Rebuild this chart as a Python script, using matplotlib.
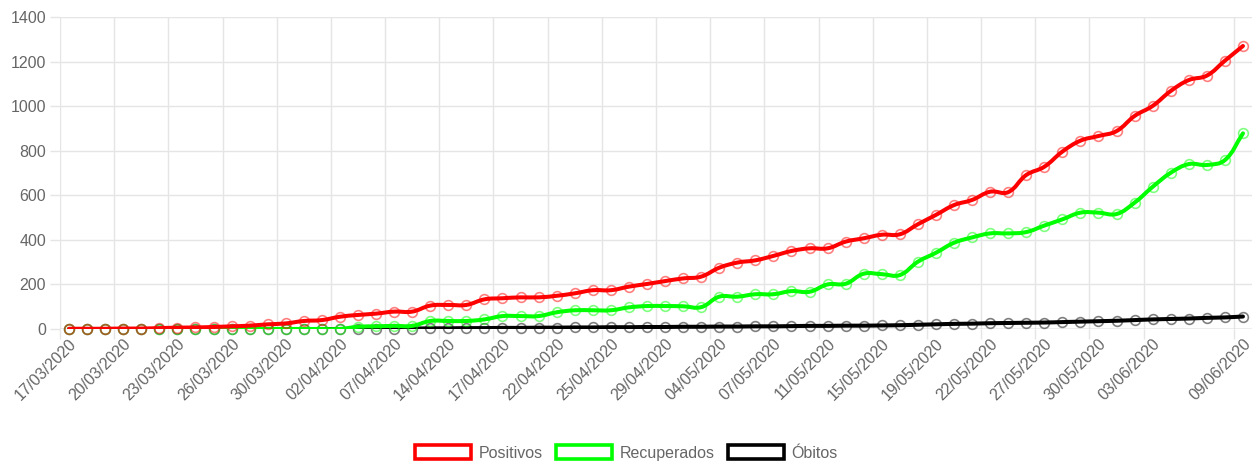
import numpy as np
import matplotlib
matplotlib.use("Agg")
import matplotlib.pyplot as plt
from matplotlib.path import Path
from matplotlib.patches import PathPatch, Patch

plt.rcParams['font.family'] = ['Liberation Sans', 'DejaVu Sans']

datas = ["17/03/2020", "18/03/2020", "19/03/2020", "20/03/2020", "21/03/2020", "22/03/2020",
         "23/03/2020", "24/03/2020", "25/03/2020", "26/03/2020", "27/03/2020", "28/03/2020",
         "30/03/2020", "31/03/2020", "01/04/2020", "02/04/2020", "03/04/2020", "06/04/2020",
         "07/04/2020", "08/04/2020", "13/04/2020", "14/04/2020", "15/04/2020", "16/04/2020",
         "17/04/2020", "20/04/2020", "21/04/2020", "22/04/2020", "23/04/2020", "24/04/2020",
         "25/04/2020", "27/04/2020", "28/04/2020", "29/04/2020", "30/04/2020", "02/05/2020",
         "04/05/2020", "05/05/2020", "06/05/2020", "07/05/2020", "08/05/2020", "09/05/2020",
         "11/05/2020", "12/05/2020", "13/05/2020", "15/05/2020", "16/05/2020", "18/05/2020",
         "19/05/2020", "20/05/2020", "21/05/2020", "22/05/2020", "25/05/2020", "26/05/2020",
         "27/05/2020", "28/05/2020", "29/05/2020", "30/05/2020", "01/06/2020", "02/06/2020",
         "03/06/2020", "04/06/2020", "05/06/2020", "06/06/2020", "08/06/2020", "09/06/2020"]

positivos = [1, 1, 1, 2, 2, 4, 6, 7, 9, 12, 15,
             21, 25, 36, 40, 55, 63, 69, 78, 78, 105, 108,
             108, 133, 138, 142, 142, 149, 160, 174, 174, 190, 202, 215,
             227, 235, 275, 298, 308, 328, 350, 362, 362, 392, 407,
             423, 425, 470, 512, 556, 579, 616, 614, 691, 728,
             796, 845, 866, 888, 956, 1001, 1068, 1117, 1137, 1204, 1270]

recuperados = [0] * 16 + [10, 12, 14, 14, 36, 36,
               36, 43, 58, 58, 58, 75, 84, 84, 84, 97, 103, 103, 102, 98,
               145, 145, 156, 156, 170, 167, 200, 203, 248,
               246, 242, 302, 342, 387, 411, 429, 429, 435, 464,
               492, 522, 522, 516, 567, 638, 701, 740, 736, 758, 878]

obitos = [0] * 16 + [1, 1, 2, 2, 3, 3, 4, 4, 5, 5, 6, 6, 7, 7, 8, 8, 9, 9, 10, 10,
                     11, 11, 12, 12, 13, 14, 14, 15, 15, 16, 17, 19, 21, 23, 24, 26, 27, 28, 29, 31,
                     33, 35, 37, 40, 43, 45, 47, 50, 52, 56]

series = [("Positivos", positivos, "#ff0000", 3),
          ("Recuperados", recuperados, "#00ff00", 2),
          ("Óbitos", obitos, "#000000", 1)]

grid_c = "#e5e5e5"
zero_c = "#bfbfbf"
text_c = "#666666"
fs = 11.5

fig = plt.figure(figsize=(12.53, 4.68), dpi=100)
ax = fig.add_axes([60 / 1253, 1 - 329 / 468, 1192 / 1253, 312 / 468])
n = len(datas)
x = np.arange(n)
ax.set_xlim(-0.5, n - 0.5)
ax.set_ylim(0, 1400)


def curva(xs, ys, t=0.4):
    # bezier parecido com o do Chart.js (tension 0.4)
    p = ax.transData.transform(np.column_stack([xs, ys]))
    cps = []
    for i in range(len(p)):
        p0 = p[max(i - 1, 0)]
        p1 = p[i]
        p2 = p[min(i + 1, len(p) - 1)]
        d01 = np.hypot(*(p1 - p0))
        d12 = np.hypot(*(p2 - p1))
        tot = d01 + d12
        s01 = d01 / tot if tot else 0
        s12 = d12 / tot if tot else 0
        cps.append((p1 - t * s01 * (p2 - p0), p1 + t * s12 * (p2 - p0)))
    verts = [p[0]]
    codes = [Path.MOVETO]
    for i in range(1, len(p)):
        verts += [cps[i - 1][1], cps[i][0], p[i]]
        codes += [Path.CURVE4] * 3
    verts = ax.transData.inverted().transform(np.array(verts))
    return Path(verts, codes)


for nome, vals, cor, z in series:
    ax.add_patch(PathPatch(curva(x, vals), fill=False, edgecolor=cor, lw=2.9,
                           zorder=z + 2, capstyle='round', joinstyle='round'))
    ax.plot(x, vals, 'o', ms=7, mfc='none', mec=matplotlib.colors.to_rgba(cor, 0.5),
            mew=1.2, zorder=z + 2.5, clip_on=False)

# eixo x: rotulos a cada 3 datas + a ultima
mostrar = list(range(0, n - 4, 3)) + [n - 1]
ax.set_xticks(mostrar)
ax.set_xticklabels([datas[i] for i in mostrar], rotation=45, ha='right',
                   rotation_mode='anchor', fontsize=fs, color=text_c)
ax.set_xticks([i - 0.5 for i in mostrar], minor=True)
ax.tick_params(axis='x', which='major', length=0, pad=5)
ax.tick_params(axis='x', which='minor', length=7, color=grid_c, width=1)
ax.grid(True, axis='x', which='minor', color=grid_c, lw=1)

ax.set_yticks(range(0, 1401, 200))
ax.set_yticklabels([str(v) for v in range(0, 1401, 200)], fontsize=fs, color=text_c)
ax.tick_params(axis='y', length=7, color=grid_c, width=1, pad=3)
ax.grid(True, axis='y', color=grid_c, lw=1)
ax.axhline(0, color=zero_c, lw=1, zorder=1)

for s in ax.spines.values():
    s.set_visible(False)
ax.set_axisbelow(True)

handles = [Patch(facecolor='white', edgecolor=cor, linewidth=2.6, label=nome)
           for nome, vals, cor, z in series]
fig.legend(handles=handles, loc='center', bbox_to_anchor=(0.5, 1 - 453 / 468), ncol=3,
           frameon=False, handlelength=3.5, handleheight=0.95, handletextpad=0.5,
           columnspacing=0.8, fontsize=fs, labelcolor=text_c)

fig.savefig("out.png", dpi=100)
